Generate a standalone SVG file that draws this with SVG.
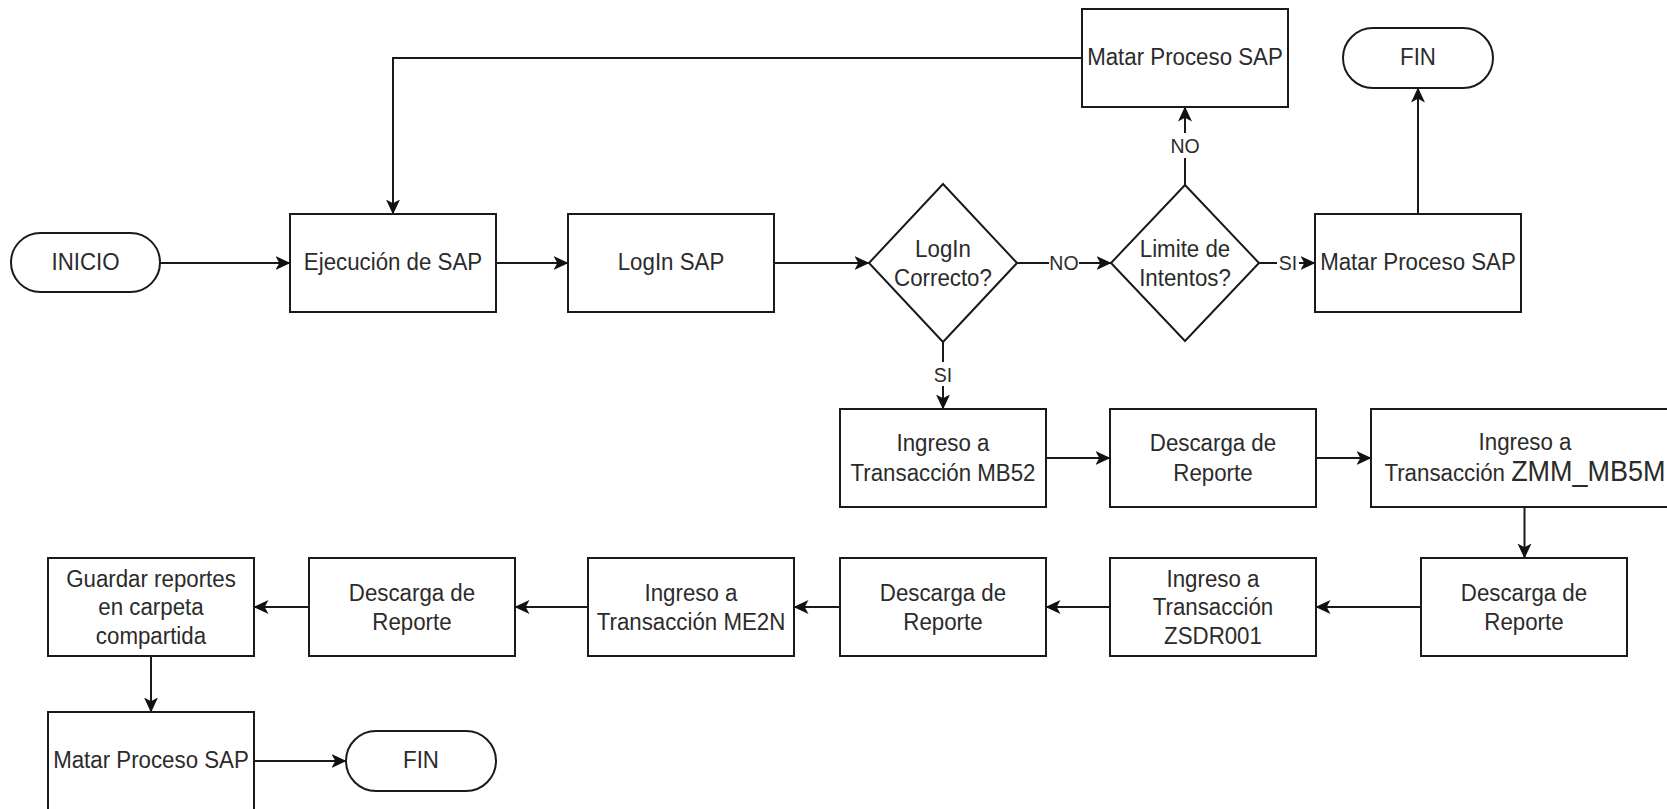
<svg xmlns="http://www.w3.org/2000/svg" width="1667" height="809" viewBox="0 0 1667 809">
<style>
.box{fill:#fff;stroke:#1a1a1a;stroke-width:2}
.t{font-family:"Liberation Sans",Arial,sans-serif;font-size:22.3px;fill:#2b2b2b;text-anchor:middle;transform-box:fill-box;transform-origin:center;transform:scaleY(1.08)}
.lbl{font-family:"Liberation Sans",Arial,sans-serif;font-size:19.5px;fill:#2b2b2b;text-anchor:middle;transform-box:fill-box;transform-origin:center;transform:scaleY(1.08)}
.c{fill:none;stroke:#1a1a1a;stroke-width:2;marker-end:url(#arr)}
.lb{fill:#fff;stroke:none}
</style>
<defs>
<marker id="arr" markerUnits="userSpaceOnUse" viewBox="0 0 15 15" refX="14.5" refY="7.5" markerWidth="15" markerHeight="15" orient="auto">
<path d="M0,0.5 L15,7.5 L0,14.5 L3.8,7.5 z" fill="#111"/>
</marker>
</defs>
<rect width="1667" height="809" fill="#fff"/>

<g id="connectors">
<path class="c" d="M160,263 H290"/>
<path class="c" d="M496,263 H568"/>
<path class="c" d="M774,263 H869"/>
<path class="c" d="M1017,263 H1111"/>
<path class="c" d="M1259,263 H1315"/>
<path class="c" d="M1185,185 V107"/>
<path class="c" d="M1082,58 H393 V214"/>
<path class="c" d="M1418,214 V88"/>
<path class="c" d="M943,342 V409"/>
<path class="c" d="M1046,458 H1110"/>
<path class="c" d="M1316,458 H1371"/>
<path class="c" d="M1524.5,507 V558"/>
<path class="c" d="M1421,607 H1316"/>
<path class="c" d="M1110,607 H1046"/>
<path class="c" d="M840,607 H794"/>
<path class="c" d="M588,607 H515"/>
<path class="c" d="M309,607 H254"/>
<path class="c" d="M151,656 V712"/>
<path class="c" d="M254,761 H346"/>
<rect class="lb" x="1049" y="252" width="30" height="22"/>
<text class="lbl" x="1064" y="269.5">NO</text>
<rect class="lb" x="1277" y="252" width="22" height="22"/>
<text class="lbl" x="1288" y="269.5">SI</text>
<rect class="lb" x="1170" y="133" width="30" height="25"/>
<text class="lbl" x="1185" y="152.5">NO</text>
<rect class="lb" x="932" y="362" width="22" height="24"/>
<text class="lbl" x="943" y="381.5">SI</text>
</g>

<g id="inicio">
<rect class="box" x="11" y="233" width="149" height="59" rx="29.5"/>
<text class="t" x="85.5" y="269.5">INICIO</text>
</g>
<g id="ejecucion">
<rect class="box" x="290" y="214" width="206" height="98"/>
<text class="t" x="393" y="269.5">Ejecución de SAP</text>
</g>
<g id="login">
<rect class="box" x="568" y="214" width="206" height="98"/>
<text class="t" x="671" y="269.5">LogIn SAP</text>
</g>
<g id="login-correcto">
<polygon class="box" points="943,184 1017,263 943,342 869,263"/>
<text class="t" x="943" y="256">LogIn</text>
<text class="t" x="943" y="285">Correcto?</text>
</g>
<g id="limite-intentos">
<polygon class="box" points="1185,185 1259,263 1185,341 1111,263"/>
<text class="t" x="1185" y="256">Limite de</text>
<text class="t" x="1185" y="285">Intentos?</text>
</g>
<g id="matar-1">
<rect class="box" x="1082" y="9" width="206" height="98"/>
<text class="t" x="1185" y="64">Matar Proceso SAP</text>
</g>
<g id="fin-1">
<rect class="box" x="1343" y="28" width="150" height="60" rx="30"/>
<text class="t" x="1418" y="64.5">FIN</text>
</g>
<g id="matar-2">
<rect class="box" x="1315" y="214" width="206" height="98"/>
<text class="t" x="1418" y="269">Matar Proceso SAP</text>
</g>
<g id="mb52">
<rect class="box" x="840" y="409" width="206" height="98"/>
<text class="t" x="943" y="450.5">Ingreso a</text>
<text class="t" x="943" y="480">Transacción MB52</text>
</g>
<g id="descarga-1">
<rect class="box" x="1110" y="409" width="206" height="98"/>
<text class="t" x="1213" y="450.5">Descarga de</text>
<text class="t" x="1213" y="480">Reporte</text>
</g>
<g id="zmm">
<rect class="box" x="1371" y="409" width="310" height="98"/>
<text class="t" x="1525" y="449.5">Ingreso a</text>
<text class="t" x="1525" y="480">Transacción <tspan font-size="27">ZMM_MB5M</tspan></text>
</g>
<g id="descarga-2">
<rect class="box" x="1421" y="558" width="206" height="98"/>
<text class="t" x="1524" y="600">Descarga de</text>
<text class="t" x="1524" y="629">Reporte</text>
</g>
<g id="zsdr001">
<rect class="box" x="1110" y="558" width="206" height="98"/>
<text class="t" x="1213" y="586">Ingreso a</text>
<text class="t" x="1213" y="614.5">Transacción</text>
<text class="t" x="1213" y="643">ZSDR001</text>
</g>
<g id="descarga-3">
<rect class="box" x="840" y="558" width="206" height="98"/>
<text class="t" x="943" y="600">Descarga de</text>
<text class="t" x="943" y="629">Reporte</text>
</g>
<g id="me2n">
<rect class="box" x="588" y="558" width="206" height="98"/>
<text class="t" x="691" y="600">Ingreso a</text>
<text class="t" x="691" y="629">Transacción ME2N</text>
</g>
<g id="descarga-4">
<rect class="box" x="309" y="558" width="206" height="98"/>
<text class="t" x="412" y="600">Descarga de</text>
<text class="t" x="412" y="629">Reporte</text>
</g>
<g id="guardar">
<rect class="box" x="48" y="558" width="206" height="98"/>
<text class="t" x="151" y="586">Guardar reportes</text>
<text class="t" x="151" y="614.5">en carpeta</text>
<text class="t" x="151" y="643">compartida</text>
</g>
<g id="matar-3">
<rect class="box" x="48" y="712" width="206" height="98"/>
<text class="t" x="151" y="767">Matar Proceso SAP</text>
</g>
<g id="fin-2">
<rect class="box" x="346" y="731" width="150" height="60" rx="30"/>
<text class="t" x="421" y="767.3">FIN</text>
</g>
</svg>
